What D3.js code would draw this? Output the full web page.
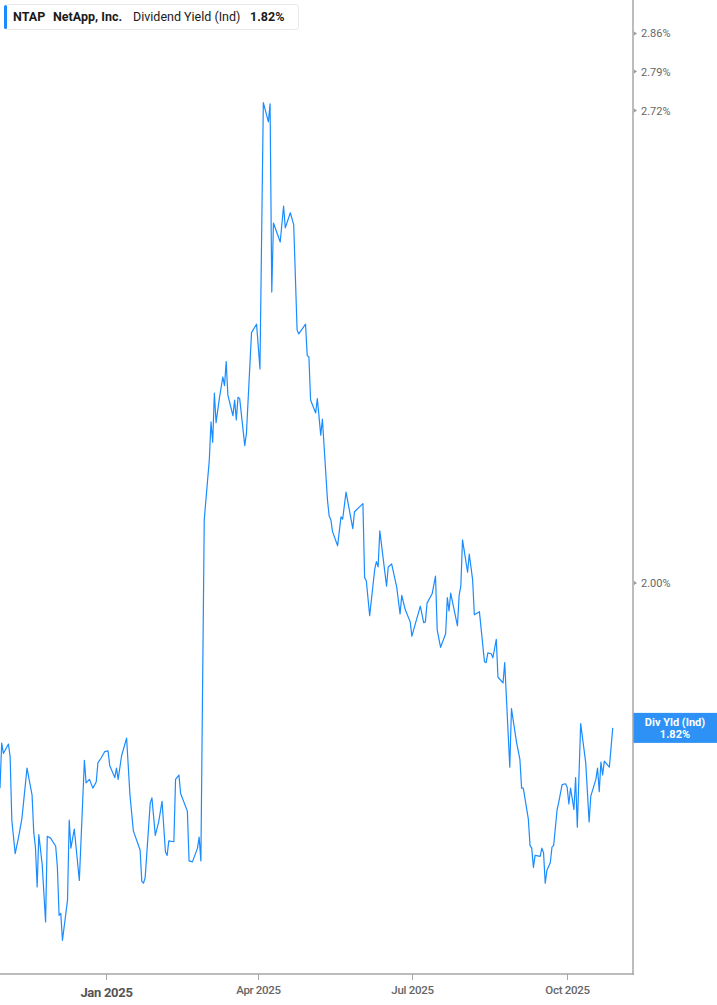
<!DOCTYPE html>
<html><head><meta charset="utf-8">
<script src="https://cdn.jsdelivr.net/npm/d3@7"></script>
<style>
html,body{margin:0;padding:0;background:#fff;}
svg{display:block;font-family:Roboto, "Noto Sans", sans-serif;}
</style></head>
<body>
<svg id="chart" width="717" height="1005"></svg>
<script>
const dates = [
"2024-10-30","2024-10-31","2024-11-01","2024-11-04","2024-11-05","2024-11-06","2024-11-08","2024-11-10","2024-11-12","2024-11-15",
"2024-11-18","2024-11-19","2024-11-20","2024-11-21","2024-11-22","2024-11-24","2024-11-26","2024-11-27","2024-11-29","2024-12-02",
"2024-12-03","2024-12-04","2024-12-05","2024-12-06","2024-12-09","2024-12-10","2024-12-11","2024-12-13","2024-12-16","2024-12-19",
"2024-12-20","2024-12-22","2024-12-24","2024-12-26","2024-12-27","2024-12-29","2024-12-31","2025-01-02","2025-01-03","2025-01-06",
"2025-01-07","2025-01-08","2025-01-10","2025-01-13","2025-01-15","2025-01-17","2025-01-21","2025-01-22","2025-01-23","2025-01-24",
"2025-01-27","2025-01-28","2025-01-30","2025-02-01","2025-02-03","2025-02-05","2025-02-06","2025-02-07","2025-02-10","2025-02-11",
"2025-02-13","2025-02-14","2025-02-18","2025-02-19","2025-02-21","2025-02-24","2025-02-25","2025-02-26",
"2025-02-28","2025-03-03","2025-03-04","2025-03-05","2025-03-06","2025-03-07","2025-03-09","2025-03-11","2025-03-12","2025-03-13",
"2025-03-14","2025-03-17","2025-03-18","2025-03-19","2025-03-20","2025-03-21","2025-03-24","2025-03-25","2025-03-28","2025-03-31",
"2025-04-02","2025-04-04","2025-04-07","2025-04-08","2025-04-09","2025-04-10","2025-04-14","2025-04-16","2025-04-17","2025-04-20",
"2025-04-22","2025-04-24","2025-04-25","2025-04-29","2025-04-30","2025-05-01","2025-05-02",
"2025-05-05","2025-05-06","2025-05-08","2025-05-09","2025-05-12","2025-05-13","2025-05-14","2025-05-15","2025-05-18","2025-05-20",
"2025-05-21","2025-05-23","2025-05-27","2025-05-28","2025-06-02","2025-06-03","2025-06-04","2025-06-06","2025-06-09","2025-06-10",
"2025-06-11","2025-06-12","2025-06-16","2025-06-17","2025-06-19","2025-06-22","2025-06-24","2025-06-25","2025-06-27","2025-06-30",
"2025-07-01","2025-07-06","2025-07-08","2025-07-09","2025-07-10","2025-07-13","2025-07-15","2025-07-16","2025-07-18","2025-07-21",
"2025-07-22","2025-07-23","2025-07-24","2025-07-28","2025-07-29","2025-07-30","2025-07-31","2025-08-03","2025-08-04","2025-08-06",
"2025-08-07","2025-08-10","2025-08-13","2025-08-14","2025-08-15","2025-08-17","2025-08-18",
"2025-08-20","2025-08-21","2025-08-24","2025-08-25","2025-08-28","2025-08-29","2025-09-01","2025-09-03","2025-09-04","2025-09-05",
"2025-09-08","2025-09-09","2025-09-10","2025-09-11","2025-09-12","2025-09-15","2025-09-16","2025-09-17","2025-09-18","2025-09-19",
"2025-09-21","2025-09-22","2025-09-23","2025-09-25","2025-09-26","2025-09-28","2025-09-30","2025-10-01","2025-10-02","2025-10-03",
"2025-10-05","2025-10-06","2025-10-07","2025-10-09","2025-10-12","2025-10-14","2025-10-15","2025-10-18","2025-10-19","2025-10-20",
"2025-10-21","2025-10-22","2025-10-23","2025-10-26","2025-10-28"
];
const yieldValues = [
1.750,1.802,1.790,1.801,1.786,1.714,1.677,1.695,1.716,1.773,
1.742,1.700,1.684,1.641,1.698,1.665,1.604,1.696,1.694,1.685,
1.662,1.611,1.613,1.585,1.627,1.714,1.683,1.704,1.648,1.782,
1.756,1.760,1.750,1.757,1.779,1.785,1.792,1.793,1.776,1.762,
1.773,1.760,1.787,1.808,1.742,1.702,1.681,1.647,1.645,1.651,
1.733,1.739,1.697,1.712,1.735,1.679,1.675,1.691,1.690,1.760,
1.765,1.744,1.724,1.669,1.668,1.683,1.695,1.669,
2.084,2.167,2.221,2.192,2.263,2.220,2.256,2.287,2.274,2.310,
2.260,2.230,2.253,2.224,2.257,2.255,2.187,2.205,2.354,2.367,
2.299,2.734,2.700,2.732,2.417,2.528,2.497,2.556,2.520,2.545,
2.525,2.358,2.352,2.367,2.319,2.317,2.253,
2.234,2.255,2.202,2.225,2.111,2.089,2.084,2.068,2.049,2.088,
2.085,2.122,2.072,2.095,2.106,2.007,2.003,1.958,2.018,2.028,
2.021,2.069,1.996,2.021,2.025,1.995,1.960,1.984,1.966,1.950,
1.932,1.970,1.949,1.950,1.974,1.986,2.009,1.940,1.918,1.935,
1.981,1.964,1.987,1.945,1.984,1.996,2.057,2.014,2.038,2.004,
1.959,1.963,1.900,1.899,1.911,1.910,1.905,
1.928,1.881,1.874,1.899,1.774,1.843,1.803,1.783,1.750,1.750,
1.715,1.686,1.683,1.662,1.675,1.674,1.683,1.678,1.645,1.659,
1.667,1.684,1.686,1.725,1.734,1.754,1.755,1.751,1.732,1.750,
1.726,1.762,1.706,1.825,1.779,1.712,1.741,1.760,1.773,1.746,
1.780,1.765,1.781,1.774,1.820
];
const yTickValues = [2.00, 2.72, 2.79, 2.86];
const xTickDates = ["2025-01-01","2025-04-01","2025-07-01","2025-10-01"];
const xTickLabels = ["Jan 2025","Apr 2025","Jul 2025","Oct 2025"];
const legendParts = ["NTAP","NetApp, Inc.","Dividend Yield (Ind)","1.82%"];
const badgeLines = ["Div Yld (Ind)","1.82%"];
const lastValue = 1.82;

const parse = d3.timeParse("%Y-%m-%d");
const data = dates.map((d,i)=>({date:parse(d), v:yieldValues[i]}));

const svg = d3.select("#chart");
const plotW = 633, plotH = 974;
const lineColor = "#1a8cff";

const x = d3.scaleTime().domain([new Date(2024,9,30), new Date(2025,10,9)]).range([0, plotW]);
const y = d3.scaleLog().domain([1.5506, 2.923]).range([plotH, 0]);

svg.append("defs").append("clipPath").attr("id","clip")
  .append("rect").attr("x",0).attr("y",0).attr("width",plotW).attr("height",plotH);

svg.append("path").datum(data)
  .attr("clip-path","url(#clip)")
  .attr("fill","none").attr("stroke",lineColor).attr("stroke-width",1.2)
  .attr("stroke-linejoin","round")
  .attr("d", d3.line().x(d=>x(d.date)).y(d=>y(d.v)));

// axes
const axisColor = "#a6a6a6";
svg.append("line").attr("x1",0).attr("x2",plotW+1).attr("y1",plotH).attr("y2",plotH)
  .attr("stroke",axisColor).attr("stroke-width",1.5);
svg.append("line").attr("x1",plotW).attr("x2",plotW).attr("y1",0).attr("y2",plotH+0.75)
  .attr("stroke",axisColor).attr("stroke-width",1.5);

const xt = svg.append("g");
xTickDates.forEach((d,i)=>{
  const px = Math.round(x(parse(d)))+0.5;
  xt.append("line").attr("x1",px).attr("x2",px).attr("y1",plotH).attr("y2",plotH+6)
    .attr("stroke",axisColor).attr("stroke-width",1);
  xt.append("text").attr("x",px).attr("y", i===0 ? 997 : 994)
    .attr("text-anchor","middle")
    .attr("font-size", i===0 ? 13 : 11.5)
    .attr("font-weight", i===0 ? 700 : 500)
    .attr("fill", i===0 ? "#555" : "#666")
    .attr("letter-spacing", -0.3)
    .text(xTickLabels[i]);
});

const yt = svg.append("g");
yTickValues.forEach(v=>{
  const py = y(v);
  yt.append("path").attr("d",`M${plotW+1},${py-2}L${plotW+4},${py}L${plotW+1},${py+2}Z`).attr("fill","#999");
  yt.append("text").attr("x",641).attr("y",py+4).attr("font-size",11).attr("fill","#666")
    .text(v.toFixed(2)+"%");
});

// badge
const by = y(lastValue);
svg.append("rect").attr("x",plotW+0.5).attr("y",by-15).attr("width",717-plotW).attr("height",30).attr("fill","#2d91f5");
svg.append("text").attr("x",675).attr("y",by-2).attr("text-anchor","middle").attr("font-size",11)
  .attr("font-weight",700).attr("fill","#fff").text(badgeLines[0]);
svg.append("text").attr("x",675).attr("y",by+10).attr("text-anchor","middle").attr("font-size",11)
  .attr("font-weight",700).attr("fill","#fff").text(badgeLines[1]);

// legend
const lg = svg.append("g");
lg.append("rect").attr("x",4.5).attr("y",4.5).attr("width",294).attr("height",25).attr("rx",3)
  .attr("fill","#fff").attr("stroke","#e8e8e8");
lg.append("rect").attr("x",4).attr("y",5).attr("width",3).attr("height",24).attr("rx",1.5).attr("fill",lineColor);
const lx = [13, 53, 133, 250];
const lw = [700, 700, 400, 700];
legendParts.forEach((t,i)=>{
  lg.append("text").attr("x",lx[i]).attr("y",21).attr("font-size",12.5).attr("font-weight",lw[i])
    .attr("fill","#1a1a1a").text(t);
});
</script>
</body></html>
